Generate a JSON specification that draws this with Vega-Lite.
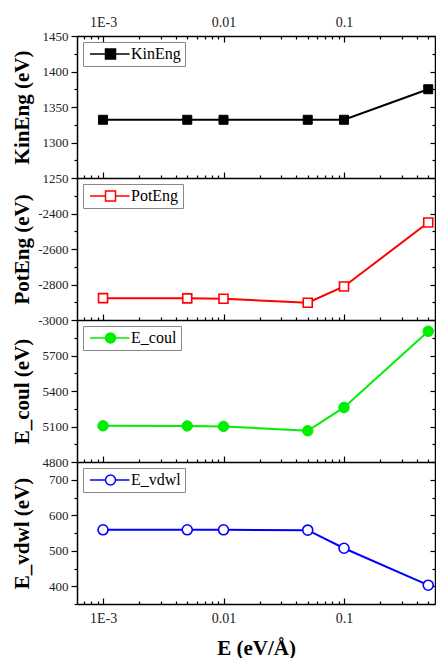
{
  "$schema": "https://vega.github.io/schema/vega-lite/v6.json",
  "padding": {"left": 11, "top": 12, "right": 0, "bottom": 0},
  "bounds": "flush",
  "data": {"values": [
    {"E": 0.001, "KinEng": 1332, "PotEng": -2877, "E_coul": 5106, "E_vdwl": 559},
    {"E": 0.005, "KinEng": 1332, "PotEng": -2878, "E_coul": 5105, "E_vdwl": 559},
    {"E": 0.01, "KinEng": 1332, "PotEng": -2880, "E_coul": 5101, "E_vdwl": 559},
    {"E": 0.05, "KinEng": 1332, "PotEng": -2903, "E_coul": 5064, "E_vdwl": 558},
    {"E": 0.1, "KinEng": 1332, "PotEng": -2811, "E_coul": 5261, "E_vdwl": 507},
    {"E": 0.5, "KinEng": 1375, "PotEng": -2451, "E_coul": 5905, "E_vdwl": 403}
  ]},
  "config": {
    "view": {"stroke": null},
    "axis": {"grid": false, "domainColor": "black", "domainWidth": 1.5, "tickColor": "black", "tickWidth": 1.2,
      "labelFont": "Liberation Serif", "labelFontSize": 13, "labelColor": "#222",
      "titleFont": "Liberation Serif", "titleFontSize": 21, "titleFontWeight": "bold", "titleColor": "black",
      "labelOverlap": false, "labelFlush": false},
    "legend": {"labelFont": "Liberation Serif", "labelFontSize": 16, "labelColor": "black",
      "strokeColor": "#888", "fillColor": "white", "padding": 4, "cornerRadius": 0, "orient": "top-left", "offset": 6, "labelOffset": 28}
  },
  "spacing": 0,
  "resolve": {"scale": {"color": "independent"}, "legend": {"color": "independent"}},
  "vconcat": [
    {
      "width": 358, "height": 142,
      "layer": [
        {"mark": {"type": "line", "color": "black", "strokeWidth": 2},
         "encoding": {
           "x": {"field": "E", "type": "quantitative", "scale": {"type": "log", "domain": [0.000608, 0.569], "nice": false},
             "axis": {"orient": "bottom", "values": [0.0007,0.0008,0.0009,0.001,0.002,0.003,0.004,0.005,0.006,0.007,0.008,0.009,0.01,0.02,0.03,0.04,0.05,0.06,0.07,0.08,0.09,0.1,0.2,0.3,0.4,0.5], "labels": false, "title": null, "minExtent": 0, "maxExtent": 0,
               "tickSize": {"condition": {"test": "datum.value == 0.001 || datum.value == 0.01 || datum.value == 0.1", "value": -6}, "value": -3}}},
           "y": {"field": "KinEng", "type": "quantitative", "scale": {"domain": [1250, 1450], "nice": false, "zero": false},
             "axis": {"orient": "left", "values": [1250,1275,1300,1325,1350,1375,1400,1425,1450], "labelExpr": "datum.value % 50 == 0 ? '' + datum.value : ''",
               "tickSize": {"condition": {"test": "datum.value % 50 == 0", "value": 6}, "value": 3}, "labelPadding": 3, "minExtent": 42, "maxExtent": 42, "title": "KinEng (eV)", "titlePadding": 3}}
         }},
        {"mark": {"type": "point", "shape": "square", "filled": false, "fill": "black", "fillOpacity": 1, "strokeWidth": 1, "size": 81, "opacity": 1},
         "encoding": {
           "x": {"field": "E", "type": "quantitative",
             "axis": {"orient": "top", "values": [0.0007,0.0008,0.0009,0.001,0.002,0.003,0.004,0.005,0.006,0.007,0.008,0.009,0.01,0.02,0.03,0.04,0.05,0.06,0.07,0.08,0.09,0.1,0.2,0.3,0.4,0.5], "title": null,
               "labelExpr": "datum.value == 0.001 ? '1E-3' : datum.value == 0.01 ? '0.01' : datum.value == 0.1 ? '0.1' : ''", "labelFontSize": 14, "labelPadding": 13,
               "tickSize": {"condition": {"test": "datum.value == 0.001 || datum.value == 0.01 || datum.value == 0.1", "value": -6}, "value": -3}}},
           "y": {"field": "KinEng", "type": "quantitative",
             "axis": {"orient": "right", "values": [1250,1275,1300,1325,1350,1375,1400,1425,1450], "labels": false, "title": null, "minExtent": 0, "maxExtent": 0,
               "tickSize": {"condition": {"test": "datum.value % 50 == 0", "value": -5}, "value": -3}}},
           "color": {"datum": "KinEng", "type": "nominal", "scale": {"range": ["black"]},
             "legend": {"title": null, "symbolType": "M-1,0H2.1M4.1,0H6.9M2.1,-1H4.1V1H2.1Z",
               "encode": {"symbols": {"update": {"shape": {"value": "M-1,0H2.1M4.1,0H6.9M2.1,-1H4.1V1H2.1Z"}, "size": {"value": 81}, "fill": {"value": "black"}, "stroke": {"value": "black"}, "strokeWidth": {"value": 2}, "opacity": {"value": 1}}}}}}
         }}
      ],
      "resolve": {"axis": {"x": "independent", "y": "independent"}}
    },
    {
      "width": 358, "height": 142,
      "layer": [
        {"mark": {"type": "line", "color": "#ff0000", "strokeWidth": 2},
         "encoding": {
           "x": {"field": "E", "type": "quantitative", "scale": {"type": "log", "domain": [0.000608, 0.569], "nice": false},
             "axis": {"orient": "bottom", "values": [0.0007,0.0008,0.0009,0.001,0.002,0.003,0.004,0.005,0.006,0.007,0.008,0.009,0.01,0.02,0.03,0.04,0.05,0.06,0.07,0.08,0.09,0.1,0.2,0.3,0.4,0.5], "labels": false, "title": null, "minExtent": 0, "maxExtent": 0,
               "tickSize": {"condition": {"test": "datum.value == 0.001 || datum.value == 0.01 || datum.value == 0.1", "value": -6}, "value": -3}}},
           "y": {"field": "PotEng", "type": "quantitative", "scale": {"domain": [-3000, -2200], "nice": false, "zero": false},
             "axis": {"orient": "left", "values": [-3000,-2900,-2800,-2700,-2600,-2500,-2400,-2300], "labelExpr": "datum.value % 200 == 0 ? '' + datum.value : ''",
               "tickSize": {"condition": {"test": "datum.value % 200 == 0", "value": 6}, "value": 3}, "labelPadding": 3, "minExtent": 42, "maxExtent": 42, "title": "PotEng (eV)", "titlePadding": 3}}
         }},
        {"mark": {"type": "point", "shape": "square", "filled": false, "fill": "white", "fillOpacity": 1, "strokeWidth": 1.6, "size": 81, "opacity": 1},
         "encoding": {
           "x": {"field": "E", "type": "quantitative", "axis": null},
           "y": {"field": "PotEng", "type": "quantitative",
             "axis": {"orient": "right", "values": [-3000,-2900,-2800,-2700,-2600,-2500,-2400,-2300], "labels": false, "title": null, "minExtent": 0, "maxExtent": 0,
               "tickSize": {"condition": {"test": "datum.value % 200 == 0", "value": -5}, "value": -3}}},
           "color": {"datum": "PotEng", "type": "nominal", "scale": {"range": ["#ff0000"]},
             "legend": {"title": null, "symbolType": "M-1,0H2.1M4.1,0H6.9M2.1,-1H4.1V1H2.1Z",
               "encode": {"symbols": {"update": {"shape": {"value": "M-1,0H2.1M4.1,0H6.9M2.1,-1H4.1V1H2.1Z"}, "size": {"value": 81}, "fill": {"value": "white"}, "stroke": {"value": "#ff0000"}, "strokeWidth": {"value": 2}, "opacity": {"value": 1}}}}}}
         }}
      ],
      "resolve": {"axis": {"x": "independent", "y": "independent"}}
    },
    {
      "width": 358, "height": 142,
      "layer": [
        {"mark": {"type": "line", "color": "#00ee00", "strokeWidth": 2},
         "encoding": {
           "x": {"field": "E", "type": "quantitative", "scale": {"type": "log", "domain": [0.000608, 0.569], "nice": false},
             "axis": {"orient": "bottom", "values": [0.0007,0.0008,0.0009,0.001,0.002,0.003,0.004,0.005,0.006,0.007,0.008,0.009,0.01,0.02,0.03,0.04,0.05,0.06,0.07,0.08,0.09,0.1,0.2,0.3,0.4,0.5], "labels": false, "title": null, "minExtent": 0, "maxExtent": 0,
               "tickSize": {"condition": {"test": "datum.value == 0.001 || datum.value == 0.01 || datum.value == 0.1", "value": -6}, "value": -3}}},
           "y": {"field": "E_coul", "type": "quantitative", "scale": {"domain": [4800, 6000], "nice": false, "zero": false},
             "axis": {"orient": "left", "values": [4800,4950,5100,5250,5400,5550,5700,5850], "labelExpr": "datum.value % 300 == 0 ? '' + datum.value : ''",
               "tickSize": {"condition": {"test": "datum.value % 300 == 0", "value": 6}, "value": 3}, "labelPadding": 3, "minExtent": 42, "maxExtent": 42, "title": "E_coul (eV)", "titlePadding": 3}}
         }},
        {"mark": {"type": "point", "shape": "circle", "filled": false, "fill": "#00ee00", "fillOpacity": 1, "strokeWidth": 1, "size": 110, "opacity": 1},
         "encoding": {
           "x": {"field": "E", "type": "quantitative", "axis": null},
           "y": {"field": "E_coul", "type": "quantitative",
             "axis": {"orient": "right", "values": [4800,4950,5100,5250,5400,5550,5700,5850], "labels": false, "title": null, "minExtent": 0, "maxExtent": 0,
               "tickSize": {"condition": {"test": "datum.value % 300 == 0", "value": -5}, "value": -3}}},
           "color": {"datum": "E_coul", "type": "nominal", "scale": {"range": ["#00ee00"]},
             "legend": {"title": null, "symbolType": "M-1,0H2.1M4.1,0H6.9M4.1,0C4.1,0.5523,3.6523,1,3.1,1C2.5477,1,2.1,0.5523,2.1,0C2.1,-0.5523,2.5477,-1,3.1,-1C3.6523,-1,4.1,-0.5523,4.1,0Z",
               "encode": {"symbols": {"update": {"shape": {"value": "M-1,0H2.1M4.1,0H6.9M4.1,0C4.1,0.5523,3.6523,1,3.1,1C2.5477,1,2.1,0.5523,2.1,0C2.1,-0.5523,2.5477,-1,3.1,-1C3.6523,-1,4.1,-0.5523,4.1,0Z"}, "size": {"value": 81}, "fill": {"value": "#00ee00"}, "stroke": {"value": "#00ee00"}, "strokeWidth": {"value": 2}, "opacity": {"value": 1}}}}}}
         }}
      ],
      "resolve": {"axis": {"x": "independent", "y": "independent"}}
    },
    {
      "width": 358, "height": 142,
      "layer": [
        {"mark": {"type": "line", "color": "#0000ff", "strokeWidth": 2},
         "encoding": {
           "x": {"field": "E", "type": "quantitative", "scale": {"type": "log", "domain": [0.000608, 0.569], "nice": false},
             "axis": {"orient": "bottom", "values": [0.0007,0.0008,0.0009,0.001,0.002,0.003,0.004,0.005,0.006,0.007,0.008,0.009,0.01,0.02,0.03,0.04,0.05,0.06,0.07,0.08,0.09,0.1,0.2,0.3,0.4,0.5], "title": "E (eV/Å)", "titlePadding": 9,
               "labelExpr": "datum.value == 0.001 ? '1E-3' : datum.value == 0.01 ? '0.01' : datum.value == 0.1 ? '0.1' : ''", "labelFontSize": 14, "labelPadding": 13,
               "tickSize": {"condition": {"test": "datum.value == 0.001 || datum.value == 0.01 || datum.value == 0.1", "value": -6}, "value": -3}}},
           "y": {"field": "E_vdwl", "type": "quantitative", "scale": {"domain": [350, 750], "nice": false, "zero": false},
             "axis": {"orient": "left", "values": [350,400,450,500,550,600,650,700], "labelExpr": "datum.value % 100 == 0 ? '' + datum.value : ''",
               "tickSize": {"condition": {"test": "datum.value % 100 == 0", "value": 6}, "value": 3}, "labelPadding": 3, "minExtent": 42, "maxExtent": 42, "title": "E_vdwl (eV)", "titlePadding": 3}}
         }},
        {"mark": {"type": "point", "shape": "circle", "filled": false, "fill": "white", "fillOpacity": 1, "strokeWidth": 1.6, "size": 100, "opacity": 1},
         "encoding": {
           "x": {"field": "E", "type": "quantitative", "axis": null},
           "y": {"field": "E_vdwl", "type": "quantitative",
             "axis": {"orient": "right", "values": [350,400,450,500,550,600,650,700], "labels": false, "title": null, "minExtent": 0, "maxExtent": 0,
               "tickSize": {"condition": {"test": "datum.value % 100 == 0", "value": -5}, "value": -3}}},
           "color": {"datum": "E_vdwl", "type": "nominal", "scale": {"range": ["#0000ff"]},
             "legend": {"title": null, "symbolType": "M-1,0H2.1M4.1,0H6.9M4.1,0C4.1,0.5523,3.6523,1,3.1,1C2.5477,1,2.1,0.5523,2.1,0C2.1,-0.5523,2.5477,-1,3.1,-1C3.6523,-1,4.1,-0.5523,4.1,0Z",
               "encode": {"symbols": {"update": {"shape": {"value": "M-1,0H2.1M4.1,0H6.9M4.1,0C4.1,0.5523,3.6523,1,3.1,1C2.5477,1,2.1,0.5523,2.1,0C2.1,-0.5523,2.5477,-1,3.1,-1C3.6523,-1,4.1,-0.5523,4.1,0Z"}, "size": {"value": 81}, "fill": {"value": "white"}, "stroke": {"value": "#0000ff"}, "strokeWidth": {"value": 2}, "opacity": {"value": 1}}}}}}
         }}
      ],
      "resolve": {"axis": {"x": "independent", "y": "independent"}}
    }
  ]
}
